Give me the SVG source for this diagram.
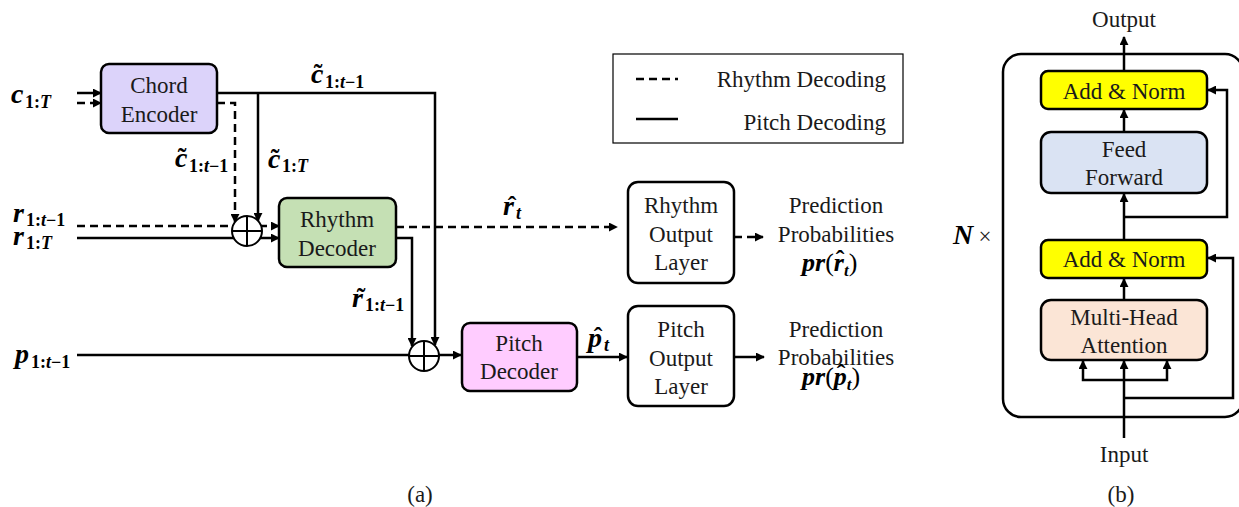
<svg xmlns="http://www.w3.org/2000/svg" width="1239" height="507" viewBox="0 0 1239 507">
<style>
.box{stroke:#000;stroke-width:2.5}
.t{font-family:'Liberation Serif','Times New Roman',serif;font-size:23px;fill:#1a1a1a;text-anchor:middle}
.tl{font-family:'Liberation Serif','Times New Roman',serif;font-size:23px;fill:#1a1a1a;text-anchor:end}
.m{font-family:'Liberation Serif','Times New Roman',serif;font-size:28px;font-weight:bold;font-style:italic;fill:#000}
.mp{font-size:26px}
.s{font-family:'Liberation Serif','Times New Roman',serif;font-size:18px;font-weight:bold;fill:#000}
.i{font-style:italic}
.n{font-weight:normal;font-style:normal}
.acc{font-family:'Liberation Serif','Times New Roman',serif;font-size:26px;font-weight:bold;fill:#000;text-anchor:middle}
.ln{fill:none;stroke:#000;stroke-width:2.5}
.ds{stroke-dasharray:8 5}
.ar{marker-end:url(#ah)}
</style>
<defs>
<marker id="ah" viewBox="0 0 10 10" refX="9" refY="5" markerWidth="9" markerHeight="9" markerUnits="userSpaceOnUse" orient="auto">
<path d="M0,0 L10,5 L0,10 z" fill="#000"/>
</marker>
</defs>

<g id="connectors">
<path class="ln ar" d="M77,93 H101"/>
<path class="ln ds ar" d="M77,103 H101"/>
<path class="ln ar" d="M217,93 H435 V345"/>
<path class="ln ar" d="M258,93 V221"/>
<path class="ln ds ar" d="M217,103 H235 V222"/>
<path class="ln ds ar" d="M77,226 H279"/>
<path class="ln ar" d="M77,238 H279"/>
<path class="ln ds ar" d="M396,227 H617"/>
<path class="ln ar" d="M396,238 H412 V346"/>
<path class="ln ar" d="M77,355 H461"/>
<path class="ln ar" d="M577,357 H627"/>
<path class="ln ds ar" d="M734,237 H763"/>
<path class="ln ar" d="M734,357 H764"/>
<path class="ln ar" d="M1124,71 V37"/>
<path class="ln ar" d="M1124,132 V110"/>
<path class="ln ar" d="M1124,240 V194"/>
<path class="ln ar" d="M1124,217 H1227 V90 H1208"/>
<path class="ln ar" d="M1124,300 V279"/>
<path class="ln ar" d="M1124,438 V361"/>
<path class="ln ar" d="M1124,380 H1083 V361"/>
<path class="ln ar" d="M1124,380 H1167 V361"/>
<path class="ln ar" d="M1124,398 H1233 V258 H1208"/>
</g>

<g id="legend">
<rect x="613" y="54" width="290" height="89" fill="#fff" stroke="#000" stroke-width="1.2"/>
<path class="ln ds" d="M636,79 H678"/>
<path class="ln" d="M636,119 H678"/>
<text class="tl" x="886" y="87">Rhythm Decoding</text>
<text class="tl" x="886" y="130">Pitch Decoding</text>
</g>

<g id="plus1">
<circle cx="247" cy="231" r="15" fill="#fff" stroke="#000" stroke-width="2"/>
<path d="M232,231 H262 M247,216 V246" stroke="#000" stroke-width="2"/>
</g>
<g id="plus2">
<circle cx="424" cy="356" r="15" fill="#fff" stroke="#000" stroke-width="2"/>
<path d="M409,356 H439 M424,341 V371" stroke="#000" stroke-width="2"/>
</g>

<g id="chord-encoder">
<rect class="box" x="101" y="64" width="116" height="69" rx="8" fill="#dcd3fa"/>
<text class="t" x="159" y="93">Chord</text>
<text class="t" x="159" y="122">Encoder</text>
</g>
<g id="rhythm-decoder">
<rect class="box" x="279" y="198" width="117" height="69" rx="8" fill="#c5e0b4"/>
<text class="t" x="337" y="227">Rhythm</text>
<text class="t" x="337" y="256">Decoder</text>
</g>
<g id="pitch-decoder">
<rect class="box" x="462" y="323" width="115" height="68" rx="8" fill="#ffccff"/>
<text class="t" x="519" y="351">Pitch</text>
<text class="t" x="519" y="379">Decoder</text>
</g>
<g id="rhythm-output">
<rect class="box" x="628" y="182" width="106" height="101" rx="10" fill="#fff"/>
<text class="t" x="681" y="213">Rhythm</text>
<text class="t" x="681" y="242">Output</text>
<text class="t" x="681" y="270">Layer</text>
</g>
<g id="pitch-output">
<rect class="box" x="628" y="306" width="106" height="100" rx="10" fill="#fff"/>
<text class="t" x="681" y="337">Pitch</text>
<text class="t" x="681" y="366">Output</text>
<text class="t" x="681" y="394">Layer</text>
</g>
<g id="rhythm-pred">
<text class="t" x="836" y="213">Prediction</text>
<text class="t" x="836" y="242">Probabilities</text>
<text class="m mp" x="802" y="271">pr<tspan class="n">(</tspan>r<tspan font-size="17" dy="5">t</tspan><tspan class="n" dy="-5">)</tspan></text>
<text class="acc" x="840" y="268">ˆ</text>
</g>
<g id="pitch-pred">
<text class="t" x="836" y="337">Prediction</text>
<text class="t" x="836" y="365">Probabilities</text>
<text class="m mp" x="802" y="385">pr<tspan class="n">(</tspan>p<tspan font-size="17" dy="5">t</tspan><tspan class="n" dy="-5">)</tspan></text>
<text class="acc" x="841" y="382">ˆ</text>
</g>

<g id="labels">
<text class="m" x="11" y="103">c</text>
<text class="s" x="25" y="108">1:<tspan class="i">T</tspan></text>
<text class="m" x="13" y="222">r</text>
<text class="s" x="26" y="226">1:<tspan class="i">t</tspan>−1</text>
<text class="m" x="13" y="245">r</text>
<text class="s" x="26" y="249">1:<tspan class="i">T</tspan></text>
<text class="m" x="15" y="363">p</text>
<text class="s" x="31" y="368">1:<tspan class="i">t</tspan>−1</text>

<text class="m" x="311" y="83">c</text>
<text class="acc" x="318" y="82">˜</text>
<text class="s" x="325" y="88">1:<tspan class="i">t</tspan>−1</text>

<text class="m" x="175" y="167">c</text>
<text class="acc" x="182" y="166">˜</text>
<text class="s" x="189" y="172">1:<tspan class="i">t</tspan>−1</text>

<text class="m" x="268" y="168">c</text>
<text class="acc" x="275" y="167">˜</text>
<text class="s" x="282" y="172">1:<tspan class="i">T</tspan></text>

<text class="m" x="503" y="215">r</text>
<text class="acc" x="512" y="214">ˆ</text>
<text class="s i" x="516" y="219">t</text>

<text class="m" x="352" y="307">r</text>
<text class="acc" x="361" y="306">˜</text>
<text class="s" x="365" y="311">1:<tspan class="i">t</tspan>−1</text>

<text class="m" x="588" y="347">p</text>
<text class="acc" x="598" y="345">ˆ</text>
<text class="s i" x="604" y="351">t</text>
</g>

<text class="t" x="420" y="502" font-size="18">(a)</text>

<g id="block-b">
<rect x="1003" y="54" width="240" height="363" rx="18" fill="none" stroke="#000" stroke-width="2.5"/>
</g>
<g id="add-norm-top">
<rect class="box" x="1041" y="71" width="166" height="38" rx="7" fill="#ffff00" stroke-width="1.5"/>
<text class="t" x="1124" y="99">Add &amp; Norm</text>
</g>
<g id="feed-forward">
<rect class="box" x="1041" y="132" width="166" height="61" rx="10" fill="#dae3f3" stroke-width="1.5"/>
<text class="t" x="1124" y="157">Feed</text>
<text class="t" x="1124" y="185">Forward</text>
</g>
<g id="add-norm-bottom">
<rect class="box" x="1041" y="240" width="166" height="38" rx="7" fill="#ffff00" stroke-width="1.5"/>
<text class="t" x="1124" y="267">Add &amp; Norm</text>
</g>
<g id="multi-head">
<rect class="box" x="1041" y="300" width="166" height="60" rx="10" fill="#fbe5d6" stroke-width="1.5"/>
<text class="t" x="1124" y="325">Multi-Head</text>
<text class="t" x="1124" y="353">Attention</text>
</g>
<text class="t" x="1124" y="27">Output</text>
<text class="t" x="1124" y="462">Input</text>
<text class="m" x="953" y="244" font-size="23">N</text>
<text class="t" x="985" y="244" font-size="26">×</text>
<text class="t" x="1121" y="502" font-size="18">(b)</text>
</svg>
